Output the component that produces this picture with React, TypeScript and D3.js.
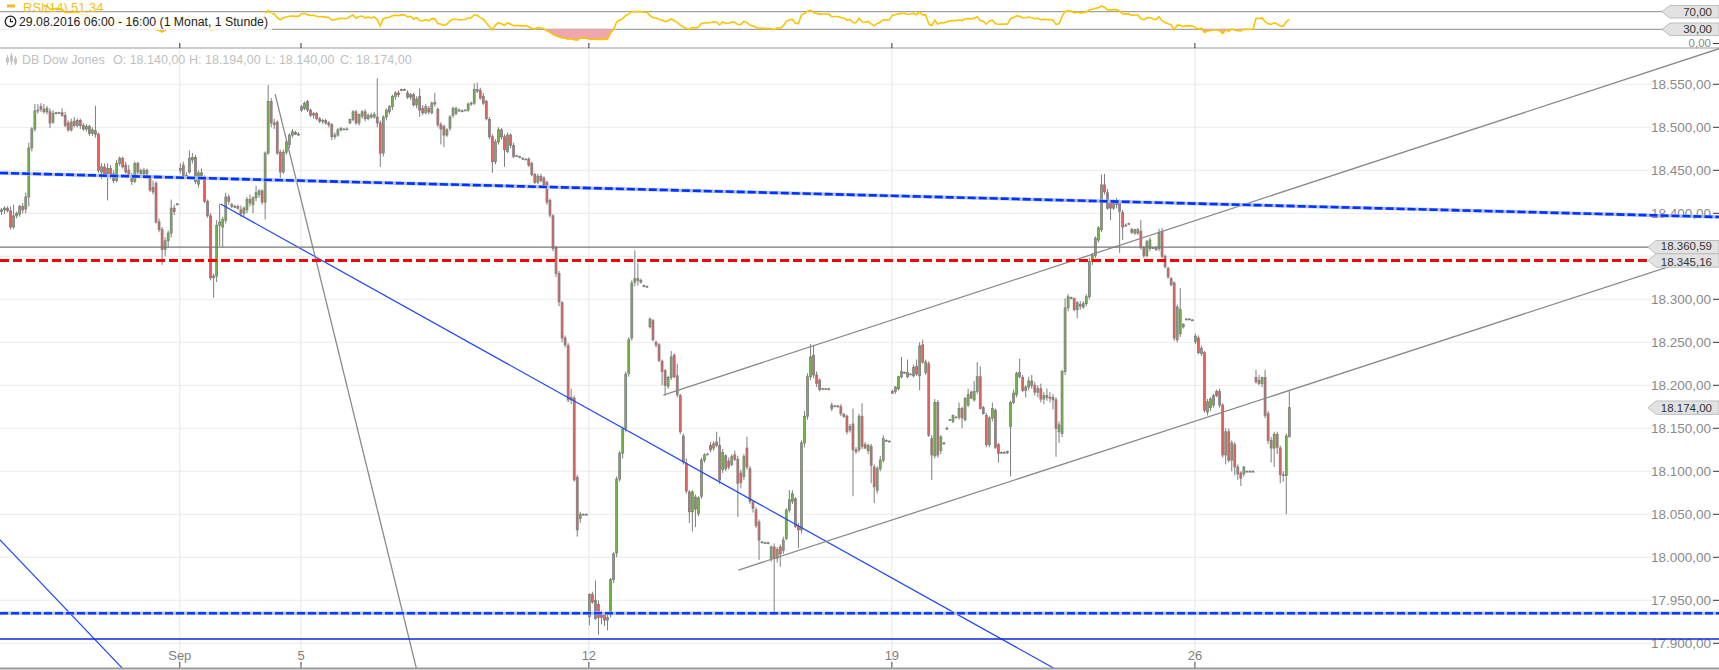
import React from "react";
import * as d3 from "d3";

// [open, high, low, close] per hourly candle
type Candle = [number, number, number, number];

// trading days shown on the chart and number of hourly candles in each
const tradingDays: [string, number][] = [
  ["29.08", 19], ["30.08", 20], ["31.08", 20], ["01.09", 20], ["02.09", 20],
  ["05.09", 15], ["06.09", 20], ["07.09", 20], ["08.09", 20], ["09.09", 20],
  ["12.09", 20], ["13.09", 20], ["14.09", 20], ["15.09", 20], ["16.09", 20],
  ["19.09", 20], ["20.09", 20], ["21.09", 20], ["22.09", 20], ["23.09", 20],
  ["26.09", 20], ["27.09", 12],
];

const dateTicks: [string, string][] = [
  ["01.09", "Sep"], ["05.09", "5"], ["12.09", "12"], ["19.09", "19"], ["26.09", "26"],
];

const priceTicks = [17900, 17950, 18000, 18050, 18100, 18150, 18200, 18250, 18300, 18350, 18400, 18450, 18500, 18550];

// Aug 29 - Sep 2
const week35: Candle[] = [
  [18402,18406,18398,18404],[18404,18408,18399,18406],[18406,18408,18401,18403],[18403,18408,18381,18384],
  [18384,18410,18382,18397],[18397,18402,18394,18400],[18399,18410,18396,18408],[18408,18412,18400,18404],
  [18405,18424,18400,18419],[18419,18482,18408,18476],[18476,18500,18472,18498],[18498,18527,18495,18519],
  [18519,18527,18516,18520],[18524,18528,18518,18521],[18521,18527,18516,18518],[18518,18525,18515,18522],
  [18518,18522,18499,18505],[18506,18520,18504,18516],[18516,18518,18515,18517],
  [18517,18518,18516,18517],[18517,18522,18512,18514],[18514,18518,18500,18502],[18505,18508,18495,18497],
  [18497,18510,18495,18506],[18507,18512,18500,18502],[18502,18510,18500,18508],[18508,18510,18498,18502],
  [18502,18505,18496,18498],[18498,18504,18495,18501],[18501,18503,18490,18493],[18493,18500,18490,18497],
  [18496,18525,18488,18492],[18492,18494,18447,18450],[18448,18458,18440,18454],[18454,18458,18442,18446],
  [18446,18458,18415,18452],[18452,18456,18440,18444],[18446,18450,18435,18438],[18438,18462,18436,18458],
  [18458,18466,18455,18464],[18464,18466,18452,18454],[18456,18460,18446,18448],[18450,18456,18443,18444],
  [18444,18447,18433,18437],[18437,18460,18435,18458],[18458,18460,18445,18448],[18446,18452,18442,18450],
  [18450,18453,18444,18446],[18446,18452,18442,18450],[18441,18444,18425,18427],[18430,18438,18422,18425],
  [18435,18437,18388,18390],[18390,18394,18378,18381],[18381,18384,18340,18358],[18358,18372,18350,18368],
  [18368,18380,18360,18377],[18377,18416,18372,18406],[18406,18410,18398,18402],[18410,18412,18409,18411],
  [18450,18458,18446,18452],[18456,18460,18442,18444],[18444,18448,18440,18442],[18448,18473,18446,18464],
  [18462,18470,18458,18465],[18465,18468,18434,18437],[18434,18450,18430,18447],[18447,18452,18440,18444],
  [18442,18444,18412,18414],[18414,18416,18395,18397],[18397,18400,18322,18325],[18325,18330,18302,18327],
  [18327,18392,18320,18386],[18386,18411,18362,18390],[18384,18396,18360,18393],[18392,18424,18388,18419],
  [18419,18422,18410,18414],[18410,18412,18406,18408],[18408,18410,18406,18408],[18408,18410,18404,18406],
  [18404,18409,18396,18400],[18400,18408,18396,18406],[18404,18419,18400,18416],[18416,18422,18408,18412],
  [18410,18420,18400,18418],[18418,18432,18414,18424],[18422,18428,18418,18426],[18426,18428,18410,18413],
  [18413,18472,18393,18470],[18470,18549,18468,18530],[18530,18534,18500,18505],[18505,18510,18498,18503],
  [18506,18508,18468,18470],[18471,18474,18441,18448],[18448,18474,18446,18471],[18471,18485,18468,18483],
  [18480,18493,18476,18491],[18491,18498,18488,18495],[18494,18496,18491,18492],[18492,18494,18490,18492],
];

// Sep 5 - Sep 9
const week36: Candle[] = [
  [18520,18526,18518,18524],[18522,18530,18520,18528],[18530,18532,18518,18520],[18520,18522,18512,18514],
  [18514,18518,18510,18516],[18516,18518,18508,18510],[18510,18512,18505,18507],[18507,18510,18504,18508],
  [18508,18510,18503,18505],[18505,18507,18500,18503],[18503,18505,18485,18489],[18489,18494,18486,18491],
  [18491,18499,18489,18497],[18497,18500,18495,18499],[18498,18499,18497,18498],
  [18498,18500,18497,18498],[18505,18510,18504,18509],[18509,18520,18507,18518],[18518,18520,18503,18505],
  [18505,18516,18502,18515],[18513,18520,18510,18518],[18518,18521,18507,18510],[18510,18516,18508,18514],
  [18514,18517,18510,18512],[18512,18518,18510,18515],[18512,18557,18500,18505],[18505,18508,18454,18470],
  [18470,18514,18466,18512],[18512,18522,18508,18520],[18518,18526,18515,18524],[18524,18538,18520,18536],
  [18536,18542,18532,18540],[18540,18543,18535,18538],[18543,18545,18542,18544],[18544,18545,18543,18544],
  [18540,18543,18533,18535],[18535,18540,18532,18538],[18538,18540,18524,18526],[18526,18536,18522,18533],
  [18536,18545,18512,18520],[18522,18526,18514,18517],[18517,18527,18515,18524],[18522,18525,18515,18518],
  [18517,18530,18515,18528],[18527,18540,18524,18529],[18521,18523,18500,18503],[18503,18506,18480,18498],
  [18501,18503,18477,18491],[18491,18499,18489,18497],[18499,18514,18496,18512],[18514,18524,18511,18522],
  [18516,18524,18514,18522],[18520,18522,18518,18519],[18519,18521,18518,18519],[18520,18521,18519,18520],
  [18520,18529,18518,18527],[18527,18530,18525,18528],[18528,18551,18526,18544],[18544,18552,18540,18542],
  [18543,18546,18532,18534],[18536,18540,18526,18528],[18530,18532,18508,18510],[18509,18512,18486,18489],
  [18489,18492,18447,18460],[18460,18486,18457,18483],[18483,18500,18480,18497],[18497,18499,18486,18489],
  [18489,18492,18454,18474],[18472,18494,18470,18491],[18491,18493,18476,18479],[18479,18482,18464,18466],
  [18467,18468,18466,18467],[18466,18467,18464,18465],[18464,18465,18462,18463],[18463,18464,18462,18463],
  [18463,18465,18454,18456],[18458,18460,18443,18445],[18445,18447,18434,18436],[18436,18446,18434,18443],
  [18443,18446,18436,18438],[18441,18443,18430,18433],[18436,18438,18410,18413],[18415,18417,18395,18398],
  [18397,18399,18356,18359],[18360,18362,18326,18330],[18330,18333,18292,18297],[18296,18298,18250,18255],
  [18255,18258,18244,18247],[18246,18249,18180,18183],[18183,18196,18178,18186],[18185,18188,18088,18090],
  [18093,18096,18024,18032],[18045,18053,18040,18050],[18050,18051,18049,18050],[18050,18051,18049,18050],
];

// Sep 12 - Sep 16
const week37: Candle[] = [
  [17931,17958,17921,17957],[17957,17960,17946,17948],[17950,17973,17927,17929],[17945,17950,17910,17930],
  [17933,17938,17922,17930],[17933,17936,17920,17927],[17927,17933,17915,17930],[17933,17976,17930,17974],
  [17974,18006,17970,18004],[18005,18094,18000,18091],[18091,18124,18088,18121],[18121,18152,18115,18149],
  [18150,18216,18146,18213],[18214,18256,18210,18253],[18255,18322,18252,18319],[18320,18357,18315,18324],
  [18324,18342,18316,18322],[18320,18324,18318,18322],[18316,18317,18314,18315],[18315,18316,18314,18315],
  [18268,18279,18266,18277],[18275,18277,18251,18253],[18250,18252,18244,18247],[18247,18249,18227,18229],
  [18228,18230,18200,18216],[18217,18219,18188,18200],[18199,18211,18196,18209],[18209,18240,18206,18233],
  [18235,18237,18208,18210],[18211,18225,18186,18189],[18188,18190,18143,18146],[18141,18144,18108,18111],
  [18109,18115,18074,18077],[18076,18078,18040,18053],[18053,18078,18030,18076],[18070,18073,18035,18056],
  [18051,18071,18048,18069],[18071,18116,18068,18113],[18113,18121,18110,18119],[18120,18121,18119,18120],
  [18130,18134,18122,18125],[18127,18135,18124,18132],[18134,18146,18128,18130],[18130,18140,18085,18090],
  [18102,18126,18098,18122],[18118,18120,18100,18103],[18112,18116,18102,18105],[18108,18120,18106,18117],
  [18119,18124,18112,18114],[18114,18118,18047,18086],[18098,18102,18080,18087],[18094,18120,18090,18117],
  [18127,18140,18102,18105],[18103,18106,18062,18065],[18064,18066,18052,18057],[18055,18058,18034,18037],
  [18041,18044,17997,18020],[18018,18019,18016,18017],[18017,18018,18016,18017],[18017,18018,18015,18016],
  [17999,18014,17995,18012],[18012,18016,17935,17999],[17999,18012,17994,18009],[18012,18015,17989,18004],
  [18008,18024,18004,18020],[18022,18057,18020,18055],[18055,18078,18052,18067],[18065,18078,18062,18074],
  [18068,18070,18034,18036],[18036,18040,18011,18032],[18032,18136,18028,18133],[18133,18170,18128,18164],
  [18164,18214,18160,18210],[18210,18248,18206,18233],[18235,18247,18208,18212],[18212,18216,18198,18202],
  [18206,18208,18193,18195],[18196,18197,18195,18196],[18196,18197,18195,18196],[18196,18197,18194,18195],
  [18177,18180,18170,18173],[18176,18177,18175,18176],[18176,18177,18174,18176],[18175,18178,18164,18167],
  [18166,18168,18162,18164],[18164,18166,18143,18146],[18148,18155,18145,18152],[18155,18173,18071,18125],
  [18125,18128,18120,18123],[18125,18167,18122,18164],[18164,18179,18126,18129],[18131,18134,18126,18127],
  [18124,18132,18120,18130],[18129,18132,18086,18107],[18105,18108,18063,18082],[18078,18106,18074,18103],
  [18103,18118,18100,18113],[18113,18142,18110,18138],[18136,18137,18134,18135],[18135,18136,18134,18135],
];

// Sep 19 - Sep 23
const week38: Candle[] = [
  [18193,18195,18190,18191],[18193,18199,18190,18198],[18196,18211,18194,18210],[18210,18233,18208,18216],
  [18215,18216,18214,18215],[18215,18230,18208,18210],[18213,18214,18212,18213],[18211,18224,18209,18221],
  [18222,18230,18211,18213],[18211,18250,18194,18246],[18247,18253,18225,18227],[18215,18230,18212,18227],
  [18225,18228,18140,18142],[18138,18142,18090,18119],[18118,18184,18115,18180],[18180,18183,18116,18119],
  [18124,18142,18120,18140],[18133,18134,18131,18132],[18150,18152,18148,18150],[18160,18161,18159,18160],
  [18158,18166,18156,18165],[18163,18164,18162,18163],[18163,18180,18160,18173],[18173,18175,18150,18162],
  [18160,18186,18158,18185],[18177,18196,18175,18189],[18192,18194,18184,18185],[18183,18205,18181,18193],
  [18193,18227,18190,18210],[18210,18222,18172,18173],[18174,18176,18166,18167],[18165,18168,18128,18131],
  [18131,18164,18128,18162],[18162,18180,18158,18173],[18171,18173,18126,18128],[18131,18133,18110,18121],
  [18122,18123,18121,18122],[18122,18123,18121,18122],[18122,18124,18120,18123],[18152,18182,18094,18180],
  [18180,18195,18178,18191],[18189,18216,18186,18214],[18215,18231,18208,18210],[18209,18212,18192,18194],
  [18194,18200,18186,18198],[18198,18210,18194,18205],[18205,18212,18196,18200],[18200,18204,18188,18192],
  [18192,18200,18186,18196],[18196,18202,18180,18184],[18184,18192,18178,18188],[18188,18196,18182,18186],
  [18186,18192,18180,18186],[18186,18190,18172,18183],[18183,18186,18117,18150],[18146,18158,18133,18154],
  [18144,18218,18140,18216],[18216,18301,18212,18290],[18290,18306,18286,18303],[18302,18303,18300,18301],
  [18301,18302,18286,18288],[18288,18298,18278,18296],[18294,18298,18288,18292],[18291,18298,18289,18295],
  [18295,18306,18292,18303],[18303,18348,18300,18344],[18344,18354,18340,18351],[18351,18373,18348,18371],
  [18369,18385,18366,18383],[18381,18445,18378,18433],[18433,18446,18422,18425],[18424,18428,18404,18406],
  [18412,18416,18392,18406],[18406,18416,18404,18412],[18410,18418,18406,18412],[18412,18416,18354,18402],
  [18401,18404,18369,18384],[18386,18388,18385,18386],[18388,18389,18387,18388],[18381,18383,18376,18378],
  [18377,18382,18375,18381],[18377,18383,18375,18381],[18379,18392,18358,18360],[18360,18362,18348,18351],
  [18351,18369,18349,18367],[18359,18372,18356,18369],[18360,18361,18359,18360],[18360,18362,18356,18358],
  [18359,18382,18356,18377],[18379,18383,18348,18350],[18350,18352,18336,18338],[18336,18338,18324,18326],
  [18324,18326,18315,18317],[18319,18321,18252,18255],[18253,18294,18250,18291],[18260,18313,18256,18288],
  [18268,18272,18266,18271],[18277,18278,18276,18277],[18277,18278,18276,18277],[18276,18277,18275,18276],
];

// Sep 26 - Sep 27
const week39: Candle[] = [
  [18251,18260,18248,18257],[18255,18258,18236,18238],[18237,18246,18234,18243],[18238,18240,18168,18171],
  [18169,18184,18165,18181],[18174,18186,18170,18184],[18177,18190,18174,18188],[18193,18195,18186,18188],
  [18193,18196,18174,18177],[18177,18179,18116,18119],[18119,18150,18108,18146],[18146,18150,18110,18113],
  [18113,18136,18100,18133],[18131,18134,18095,18105],[18105,18108,18090,18097],[18098,18100,18083,18092],
  [18097,18106,18094,18105],[18100,18101,18099,18100],[18100,18101,18099,18100],[18100,18101,18099,18100],
  [18209,18218,18202,18204],[18206,18212,18200,18202],[18202,18210,18198,18209],[18209,18218,18162,18165],
  [18167,18170,18132,18136],[18136,18140,18110,18127],[18127,18146,18105,18143],[18143,18146,18120,18128],
  [18127,18130,18086,18096],[18096,18100,18088,18095],[18095,18144,18050,18141],[18140,18194,18140,18174],
];

// drawn levels and trendlines as [candle index, price]
const levelRed = 18345.16;
const levelGrey = 18360.59;
const supportDashed = 17935;
const supportSolid = 17905;
const resistanceDashed: [number, number][] = [[-0.5, 18446.9], [566.8, 18395.7]];
const steepGrey: [number, number][] = [[90.3, 18538.6], [136.9, 17871]];
const blueFall: [number, number][] = [[72.3, 18410.8], [347.3, 17871]];
const blueLeft: [number, number][] = [[-0.5, 18020.3], [40.4, 17869]];
const channelUpper: [number, number][] = [[218.4, 18188.7], [566.8, 18591.4]];
const channelLower: [number, number][] = [[243.2, 17985.2], [566.8, 18356.9]];

const rsiLevels = [70, 30];

const FONT = "'Liberation Sans', Arial, Helvetica, sans-serif";
const de = d3.formatLocale({ decimal: ",", thousands: ".", grouping: [3], currency: ["", ""] });
const fmt = de.format(",.2f");

function rsi(closes: number[], n: number): (number | null)[] {
  const out: (number | null)[] = closes.map(() => null);
  let g = 0, l = 0;
  for (let i = 1; i <= n; i++) {
    const d = closes[i] - closes[i - 1];
    if (d > 0) g += d; else l -= d;
  }
  g /= n; l /= n;
  out[n] = l === 0 ? 100 : 100 - 100 / (1 + g / l);
  for (let i = n + 1; i < closes.length; i++) {
    const d = closes[i] - closes[i - 1];
    g = (g * (n - 1) + Math.max(d, 0)) / n;
    l = (l * (n - 1) + Math.max(-d, 0)) / n;
    out[i] = l === 0 ? 100 : 100 - 100 / (1 + g / l);
  }
  return out;
}

export default function App() {
  const W = 1719, H = 670;
  const panelTop = 48, panelBottom = 668;
  const candles: Candle[] = [...week35, ...week36, ...week37, ...week38, ...week39];

  const x = d3.scaleLinear().domain([-0.5, 566.8]).range([0, W]);
  const y = d3.scaleLinear().domain([17900, 18550]).range([643.3, 84.3]);
  const yR = d3.scaleLinear().domain([30, 70]).range([29.3, 11.7]);

  const dayStart = new Map<string, number>();
  let acc = 0;
  tradingDays.forEach(([d, n]) => { dayStart.set(d, acc); acc += n; });
  const tickX = dateTicks.map(([d, label]) => ({ label, x: x(dayStart.get(d)!) - 0.5 }));

  const closes = candles.map((c) => c[3]);
  const rsiVals = rsi(closes, 14);
  const rsiPts = rsiVals.map((v, i) => ({ i, v })).filter((d) => d.v !== null) as { i: number; v: number }[];
  const rsiLine = d3.line<{ i: number; v: number }>().x((d) => x(d.i)).y((d) => yR(d.v))(rsiPts) || "";
  const rsiArea = d3.area<{ i: number; v: number }>()
    .x((d) => x(d.i)).y0(yR(30)).y1((d) => yR(Math.min(d.v, 30)))(rsiPts) || "";

  const seg = (pts: [number, number][]) =>
    d3.line<[number, number]>().x((d) => x(d[0])).y((d) => y(d[1]))(pts) || "";

  const last = candles[candles.length - 1];
  // two close tags: text nudged apart slightly so they stay legible
  const priceTags = [
    { v: levelGrey, t: fmt(levelGrey), nudge: -1.6 },
    { v: levelRed, t: fmt(levelRed), nudge: 1.6 },
    { v: last[3], t: fmt(last[3]), nudge: 0 },
  ];
  // axis labels hidden behind a price tag are not drawn
  const axisLabels = priceTicks.filter((p) => priceTags.every((t) => Math.abs(y(p) - y(t.v)) > 9));

  const tag = (cy: number, left: number, h: number) => {
    const hh = h / 2;
    return `M${left},${cy} L${left + 8},${cy - hh} L${W},${cy - hh} L${W},${cy + hh} L${left + 8},${cy + hh} Z`;
  };

  const bodyW = 1.9;

  return (
    <svg width={W} height={H} style={{ position: "absolute", left: 0, top: 0, display: "block", background: "#fff" }}
      fontFamily={FONT}>
      <defs>
        <clipPath id="plot"><rect x={0} y={panelTop} width={W} height={panelBottom - panelTop} /></clipPath>
        <clipPath id="rsiClip"><rect x={0} y={0} width={W} height={panelTop} /></clipPath>
      </defs>
      <rect x={0} y={0} width={W} height={H} fill="#fff" />

      {/* price grid */}
      {priceTicks.map((p) => (
        <line key={p} x1={0} x2={1652} y1={y(p)} y2={y(p)} stroke="#ebebeb" strokeWidth={1} />
      ))}
      {tickX.map((t) => (
        <line key={t.label} x1={t.x} x2={t.x} y1={panelTop} y2={panelBottom - 4} stroke="#e6e6e6" strokeWidth={1} />
      ))}

      {/* RSI panel */}
      {rsiLevels.map((lv) => (
        <line key={lv} x1={0} x2={1664} y1={yR(lv)} y2={yR(lv)} stroke="#8c8c8c" strokeWidth={1} />
      ))}
      <line x1={0} x2={W} y1={panelTop} y2={panelTop} stroke="#9a9a9a" strokeWidth={1} />
      <g clipPath="url(#rsiClip)">
        <path d={rsiArea} fill="#f0a6ad" />
        <path d={rsiLine} fill="none" stroke="#fbc400" strokeWidth={1.6} />
      </g>
      {tickX.map((t) => (
        <line key={"tt" + t.label} x1={t.x} x2={t.x} y1={43} y2={48} stroke="#333" strokeWidth={1} />
      ))}

      {/* candles */}
      <g>
        {candles.map((c, i) => {
          const [o, h, l, cl] = c;
          const cx = x(i);
          const top = y(Math.max(o, cl));
          const bot = y(Math.min(o, cl));
          return (
            <g key={i}>
              <line x1={cx} x2={cx} y1={y(h)} y2={y(l)} stroke="#7d7d7d" strokeWidth={1} />
              <rect x={cx - bodyW / 2} y={top} width={bodyW} height={Math.max(bot - top, 0.8)}
                fill={cl >= o ? "#6fb93f" : "#ef5e5a"} stroke="#7d7d7d" strokeWidth={0.8} />
            </g>
          );
        })}
      </g>

      {/* price axis labels */}
      {axisLabels.map((p) => (
        <g key={"l" + p}>
          <text x={1711} y={y(p)} dy="0.36em" textAnchor="end" fontSize={13.5} fill="#8a8a8a">{fmt(p)}</text>
          <line x1={1713} x2={1719} y1={y(p)} y2={y(p)} stroke="#333" strokeWidth={1} />
        </g>
      ))}
      <text x={1711} y={47} textAnchor="end" fontSize={11.5} fill="#8a8a8a">{fmt(0)}</text>
      <line x1={1713} x2={1719} y1={43.5} y2={43.5} stroke="#333" strokeWidth={1} />

      {/* drawings */}
      <g clipPath="url(#plot)">
        <path d={seg(blueLeft)} stroke="#1f45ff" strokeWidth={1.2} fill="none" />
        <path d={seg(blueFall)} stroke="#1f45ff" strokeWidth={1.2} fill="none" />
        <path d={seg(steepGrey)} stroke="#8a8a8a" strokeWidth={1.3} fill="none" />
        <path d={seg(channelUpper)} stroke="#8a8a8a" strokeWidth={1.3} fill="none" />
        <path d={seg(channelLower)} stroke="#8a8a8a" strokeWidth={1.3} fill="none" />
        <line x1={0} x2={1652} y1={y(levelGrey)} y2={y(levelGrey)} stroke="#777" strokeWidth={1.3} />
        <line x1={0} x2={1652} y1={y(levelRed)} y2={y(levelRed)} stroke="#ff0000" strokeWidth={3} strokeDasharray="9 4" />
        <path d={seg(resistanceDashed)} stroke="#b3c2fb" strokeWidth={3.6} fill="none" />
        <path d={seg(resistanceDashed)} stroke="#0033ff" strokeWidth={2.6} strokeDasharray="8 3" fill="none" />
        <line x1={0} x2={W} y1={y(supportDashed)} y2={y(supportDashed)} stroke="#b3c2fb" strokeWidth={3.4} />
        <line x1={0} x2={W} y1={y(supportDashed)} y2={y(supportDashed)} stroke="#0b3cff" strokeWidth={2.4} strokeDasharray="8 3" />
        <line x1={0} x2={W} y1={y(supportSolid)} y2={y(supportSolid)} stroke="#0a2ad6" strokeWidth={1.6} />
      </g>

      {/* price tags */}
      {priceTags.map((t) => (
        <g key={t.t}>
          <path d={tag(y(t.v), 1648, 13.4)} fill="#e2e2e2" stroke="#bdbdbd" strokeWidth={1} />
          <text x={1712} y={y(t.v) + t.nudge} dy="0.35em" textAnchor="end" fontSize={11.5} fill="#333">{t.t}</text>
        </g>
      ))}
      {rsiLevels.map((lv) => (
        <g key={"rt" + lv}>
          <path d={tag(yR(lv), 1662, 12.5)} fill="#e2e2e2" stroke="#bdbdbd" strokeWidth={1} />
          <text x={1712} y={yR(lv)} dy="0.35em" textAnchor="end" fontSize={11.5} fill="#333">{fmt(lv)}</text>
        </g>
      ))}

      {/* time axis */}
      {tickX.map((t) => (
        <g key={"x" + t.label}>
          <text x={t.x} y={660} textAnchor="middle" fontSize={13} fill="#808080">{t.label}</text>
          <line x1={t.x} x2={t.x} y1={662} y2={668} stroke="#444" strokeWidth={1} />
        </g>
      ))}
      <line x1={0} x2={W} y1={668.5} y2={668.5} stroke="#9a9a9a" strokeWidth={2} />

      {/* legends */}
      <line x1={7} x2={15} y1={6} y2={6} stroke="#f5bd1f" strokeWidth={3} />
      <text x={23} y={11.5} fontSize={13} fill="#f5bd1f">RSI(14)</text>
      <text x={71} y={11.5} fontSize={13} fill="#f5bd1f">51,34</text>
      <rect x={0} y={13} width={272} height={17} fill="#fff" opacity={0.8} />
      <circle cx={10.5} cy={21.5} r={5.3} fill="none" stroke="#222" strokeWidth={1.3} />
      <path d="M10.5,18.3 V21.7 H13" fill="none" stroke="#222" strokeWidth={1.2} />
      <text x={19} y={26} fontSize={12.5} fill="#222" textLength={249} lengthAdjust="spacingAndGlyphs">
        29.08.2016 06:00 - 16:00 (1 Monat, 1 Stunde)
      </text>

      <g stroke="#c4c4c4" strokeWidth={1}>
        <line x1={7.5} x2={7.5} y1={55} y2={65} />
        <line x1={11.5} x2={11.5} y1={53} y2={65} />
        <line x1={15.5} x2={15.5} y1={56} y2={65} />
        <rect x={6.5} y={58} width={2} height={4} fill="#c4c4c4" />
        <rect x={10.5} y={56} width={2} height={5} fill="#c4c4c4" />
        <rect x={14.5} y={59} width={2} height={4} fill="#c4c4c4" />
      </g>
      <g fontSize={12.5} fill="#c0c0c0">
        <text x={22} y={64}>DB Dow Jones</text>
        <text x={113} y={64}>O: {fmt(last[0])}</text>
        <text x={189} y={64}>H: {fmt(last[1])}</text>
        <text x={265} y={64}>L: {fmt(last[2])}</text>
        <text x={340} y={64}>C: {fmt(last[3])}</text>
      </g>
    </svg>
  );
}
